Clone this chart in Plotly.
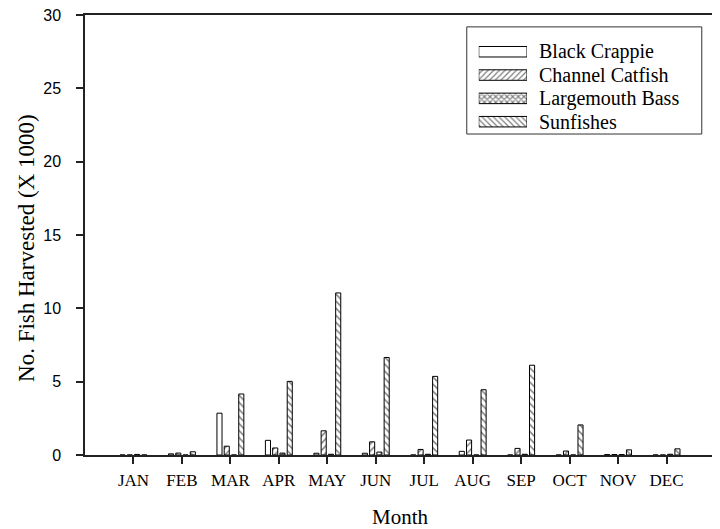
import plotly.graph_objects as go

months = ["JAN", "FEB", "MAR", "APR", "MAY", "JUN", "JUL", "AUG", "SEP", "OCT", "NOV", "DEC"]
black_crappie   = [0.00, 0.08, 2.85, 1.00, 0.12, 0.12, 0.00, 0.25, 0.00, 0.00, 0.03, 0.00]
channel_catfish = [0.00, 0.13, 0.60, 0.48, 1.65, 0.90, 0.38, 1.02, 0.45, 0.27, 0.03, 0.00]
largemouth_bass = [0.04, 0.00, 0.00, 0.13, 0.05, 0.20, 0.05, 0.00, 0.05, 0.00, 0.03, 0.05]
sunfishes       = [0.00, 0.22, 4.16, 5.02, 11.05, 6.65, 5.36, 4.45, 6.12, 2.05, 0.35, 0.42]

series_names = ["Black Crappie", "Channel Catfish", "Largemouth Bass", "Sunfishes"]
series_values = [black_crappie, channel_catfish, largemouth_bass, sunfishes]
patterns = ["", "/", "x", "\\"]
solidities = [0.3, 0.3, 0.5, 0.3]
legend_len = [1, 1, 1, 1]

serif = "Liberation Serif, Times New Roman, serif"
sans = "Liberation Sans, Arial, sans-serif"
axis_col = "#222"

fig = go.Figure()
for name, vals, pat, sol in zip(series_names, series_values, patterns, solidities):
    fig.add_trace(go.Bar(
        x=months, y=vals, name=name, showlegend=False,
        marker=dict(color="white", line=dict(color="black", width=1),
                    pattern=dict(shape=pat, fgcolor="black", bgcolor="white",
                                 size=5, solidity=sol)),
        xaxis="x", yaxis="y",
    ))

# custom legend swatches (wide, as in the reference)
for name, ln, pat, sol in zip(series_names, legend_len, patterns, solidities):
    fig.add_trace(go.Bar(
        x=[ln], y=[name], orientation="h", showlegend=False, width=0.45,
        marker=dict(color="white", line=dict(color="black", width=1),
                    pattern=dict(shape=pat, fgcolor="black", bgcolor="white",
                                 size=4, solidity=sol)),
        xaxis="x2", yaxis="y2", hoverinfo="skip",
    ))
    fig.add_annotation(x=0.718, y=name, xref="paper", yref="y2", text=name,
                       showarrow=False, xanchor="left", yanchor="middle",
                       font=dict(family=serif, size=20, color="black"))

fig.add_shape(type="rect", xref="paper", yref="paper",
              x0=0.606, x1=0.979, y0=0.7295, y1=0.973,
              line=dict(color="#333", width=1), fillcolor="rgba(0,0,0,0)", layer="above")

# axis titles
fig.add_annotation(x=-0.094, y=0.47, xref="paper", yref="paper",
                   text="No. Fish Harvested (X 1000)", textangle=-90, showarrow=False,
                   xanchor="center", yanchor="middle",
                   font=dict(family=serif, size=23, color="black"))
fig.add_annotation(x=0.5, y=-0.141, xref="paper", yref="paper",
                   text="Month", showarrow=False, xanchor="center", yanchor="middle",
                   font=dict(family=serif, size=21, color="black"))

fig.update_layout(
    width=720, height=529,
    margin=dict(l=77, r=13, t=7, b=82),
    paper_bgcolor="white", plot_bgcolor="white",
    barmode="group", bargap=0.4, bargroupgap=0.3,
    xaxis=dict(
        type="category", range=[-1, 12], showline=True, mirror=True,
        linecolor=axis_col, linewidth=1.5, ticks="outside", ticklen=7,
        tickcolor=axis_col, tickwidth=1.5, showgrid=False, zeroline=False,
        automargin=False, ticklabelstandoff=2, ticklabeloverflow="allow",
        tickfont=dict(family=serif, size=17, color="black"),
    ),
    yaxis=dict(
        range=[0, 30], dtick=5, showline=True, mirror=True,
        linecolor=axis_col, linewidth=1.5, ticks="outside", ticklen=7,
        tickcolor=axis_col, tickwidth=1.5, showgrid=False, zeroline=False,
        automargin=False, ticklabelstandoff=12, ticklabeloverflow="allow",
        tickfont=dict(family=sans, size=16, color="black"),
    ),
    xaxis2=dict(domain=[0.625, 0.7016], range=[0, 1], anchor="y2",
                visible=False, fixedrange=True),
    yaxis2=dict(domain=[0.731, 0.943], range=[3.5, -0.5], anchor="x2",
                type="category", categoryorder="array", categoryarray=series_names,
                visible=False, fixedrange=True),
)

fig.write_html("out.html")
